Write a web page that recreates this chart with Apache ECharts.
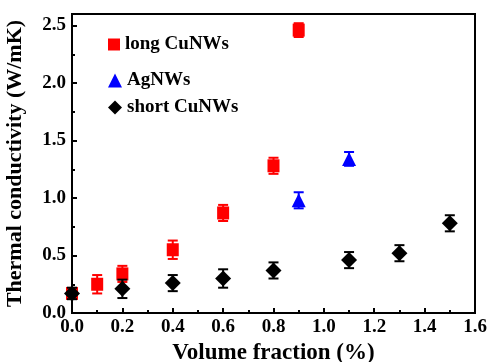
<!DOCTYPE html>
<html>
<head>
<meta charset="utf-8">
<script src="https://cdn.jsdelivr.net/npm/echarts@6/dist/echarts.min.js"></script>
<style>
  html, body { margin: 0; padding: 0; background: #fff; }
  #main { width: 490px; height: 362px; }
</style>
</head>
<body>
<div id="main"></div>
<script>
// data: [volume fraction, conductivity, error]
var longCu = [[0.0, 0.17, 0.04], [0.1, 0.25, 0.08], [0.2, 0.34, 0.07], [0.4, 0.55, 0.08], [0.6, 0.87, 0.07], [0.8, 1.28, 0.07], [0.9, 2.46, 0.06]];
var agNW = [[0.9, 0.98, 0.07], [1.1, 1.34, 0.06]];
var shortCu = [[0.0, 0.17, 0.05], [0.2, 0.21, 0.08], [0.4, 0.26, 0.07], [0.6, 0.30, 0.08], [0.8, 0.37, 0.07], [1.1, 0.46, 0.07], [1.3, 0.52, 0.07], [1.5, 0.78, 0.07]];

var font = '"Liberation Serif", "Times New Roman", serif';
var red = '#ff0000', blue = '#0000ff', black = '#000000';

// error bars drawn through custom series
function errBar(color) {
  return function (params, api) {
    var x = api.value(0), y = api.value(1), e = api.value(2);
    var hi = api.coord([x, y + e]);
    var lo = api.coord([x, y - e]);
    var w = 5;
    var st = { stroke: color, lineWidth: 2 };
    return {
      type: 'group',
      children: [
        { type: 'line', shape: { x1: hi[0], y1: hi[1], x2: lo[0], y2: lo[1] }, style: st },
        { type: 'line', shape: { x1: hi[0] - w, y1: hi[1], x2: hi[0] + w, y2: hi[1] }, style: st },
        { type: 'line', shape: { x1: lo[0] - w, y1: lo[1], x2: lo[0] + w, y2: lo[1] }, style: st }
      ]
    };
  };
}

function legendAt(top, name, icon, color, size) {
  return {
    left: 103, top: top,
    itemWidth: size, itemHeight: size, itemGap: 13,
    textStyle: { fontFamily: font, fontWeight: 'bold', fontSize: 19, color: '#000' },
    data: [{ name: name, icon: icon, itemStyle: { color: color } }]
  };
}

var myChart = echarts.init(document.getElementById('main'));
myChart.setOption({
  animation: false,
  textStyle: { fontFamily: font },
  grid: {
    left: 72, right: 15, top: 14, bottom: 49,
    outerBoundsMode: 'none',
    show: true, borderColor: '#000', borderWidth: 2
  },
  legend: [
    legendAt(30, 'long CuNWs', 'rect', red, 12),
    legendAt(66, 'AgNWs', 'triangle', blue, 14),
    legendAt(93, 'short CuNWs', 'diamond', black, 14)
  ],
  xAxis: {
    type: 'value',
    min: 0, max: 1.6, interval: 0.2,
    name: 'Volume fraction (%)',
    nameLocation: 'middle',
    nameGap: 27,
    nameTextStyle: { fontFamily: font, fontWeight: 'bold', fontSize: 23, color: '#000' },
    axisLine: { lineStyle: { color: '#000', width: 2 } },
    axisTick: { inside: true, length: 5, lineStyle: { color: '#000', width: 2 } },
    minorTick: { show: true, splitNumber: 2, length: 3, lineStyle: { color: '#000', width: 2 } },
    splitLine: { show: false },
    axisLabel: {
      fontFamily: font, fontWeight: 'bold', fontSize: 19, color: '#000', margin: 5,
      formatter: function (v) { return v.toFixed(1); }
    }
  },
  yAxis: {
    type: 'value',
    min: 0, max: 2.6, interval: 0.5,
    name: 'Thermal conductivity (W/mK)',
    nameLocation: 'middle',
    nameGap: 46,
    nameTextStyle: { fontFamily: font, fontWeight: 'bold', fontSize: 22, color: '#000' },
    axisLine: { lineStyle: { color: '#000', width: 2 } },
    axisTick: { inside: true, length: 5, lineStyle: { color: '#000', width: 2 } },
    minorTick: { show: true, splitNumber: 2, length: 3, lineStyle: { color: '#000', width: 2 } },
    splitLine: { show: false },
    axisLabel: {
      fontFamily: font, fontWeight: 'bold', fontSize: 19, color: '#000', margin: 6,
      showMaxLabel: false,
      formatter: function (v) { return Math.abs(v * 2 - Math.round(v * 2)) < 1e-6 ? v.toFixed(1) : ''; }
    }
  },
  series: [
    { name: 'long CuNWs', type: 'custom', renderItem: errBar(red), itemStyle: { color: red }, data: longCu, z: 2, silent: true },
    { name: 'long CuNWs', type: 'scatter', symbol: 'rect', symbolSize: [12, 13], itemStyle: { color: red, opacity: 1 }, data: longCu, z: 3 },
    { name: 'AgNWs', type: 'custom', renderItem: errBar(blue), itemStyle: { color: blue }, data: agNW, z: 2, silent: true },
    { name: 'AgNWs', type: 'scatter', symbol: 'triangle', symbolSize: 14, itemStyle: { color: blue, opacity: 1 }, data: agNW, z: 3 },
    { name: 'short CuNWs', type: 'custom', renderItem: errBar(black), itemStyle: { color: black }, data: shortCu, z: 4, silent: true },
    { name: 'short CuNWs', type: 'scatter', symbol: 'diamond', symbolSize: 16, itemStyle: { color: black, opacity: 1 }, data: shortCu, z: 5 }
  ]
});
</script>
</body>
</html>
